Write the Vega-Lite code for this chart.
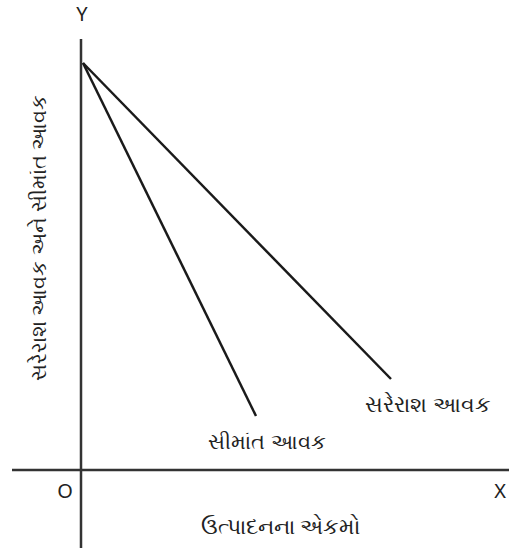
{
  "$schema": "https://vega.github.io/schema/vega-lite/v6.json",
  "width": 509,
  "height": 548,
  "autosize": "none",
  "padding": 0,
  "background": "white",
  "config": {"view": {"stroke": null}},
  "datasets": {
    "axes": [
      {"name": "Y", "x": 0, "y": -78, "x2": 0, "y2": 431},
      {"name": "X", "x": -69, "y": 0, "x2": 428, "y2": 0}
    ],
    "curves": [
      {"series": "MR", "x": 2, "y": 407},
      {"series": "MR", "x": 175, "y": 54},
      {"series": "AR", "x": 2, "y": 407},
      {"series": "AR", "x": 310, "y": 91}
    ],
    "labels": [
      {"text": "Y", "x": 1, "y": 455, "size": 20, "angle": 0},
      {"text": "X", "x": 419, "y": -22, "size": 20, "angle": 0},
      {"text": "O", "x": -16, "y": -22, "size": 20, "angle": 0},
      {"text": "ઉત્પાદનના એકમો", "x": 200, "y": -57, "size": 22, "angle": 0},
      {"text": "સરેરાશ આવક", "x": 347, "y": 65, "size": 22, "angle": 0},
      {"text": "સીમાંત આવક", "x": 186, "y": 27, "size": 21, "angle": 0},
      {"text": "સરેરાશ આવક અને સીમાંત આવક", "x": -41, "y": 232, "size": 20.5, "angle": 270}
    ]
  },
  "layer": [
    {
      "data": {"name": "axes"},
      "mark": {"type": "rule", "color": "#333333", "strokeWidth": 2.5},
      "encoding": {
        "x": {"field": "x", "type": "quantitative", "scale": {"domain": [-81, 428]}, "axis": null},
        "y": {"field": "y", "type": "quantitative", "scale": {"domain": [-78, 470]}, "axis": null},
        "x2": {"field": "x2"},
        "y2": {"field": "y2"}
      }
    },
    {
      "data": {"name": "curves"},
      "mark": {"type": "line", "color": "#1a1a1a", "strokeWidth": 2.5},
      "encoding": {
        "x": {"field": "x", "type": "quantitative", "scale": {"domain": [-81, 428]}, "axis": null},
        "y": {"field": "y", "type": "quantitative", "scale": {"domain": [-78, 470]}, "axis": null},
        "detail": {"field": "series"}
      }
    },
    {
      "data": {"name": "labels"},
      "mark": {"type": "text", "color": "#222222", "font": "Noto Sans", "align": "center", "baseline": "middle"},
      "encoding": {
        "x": {"field": "x", "type": "quantitative", "scale": {"domain": [-81, 428]}, "axis": null},
        "y": {"field": "y", "type": "quantitative", "scale": {"domain": [-78, 470]}, "axis": null},
        "text": {"field": "text"},
        "size": {"field": "size", "type": "quantitative", "scale": null},
        "angle": {"field": "angle", "type": "quantitative", "scale": null}
      }
    }
  ]
}
